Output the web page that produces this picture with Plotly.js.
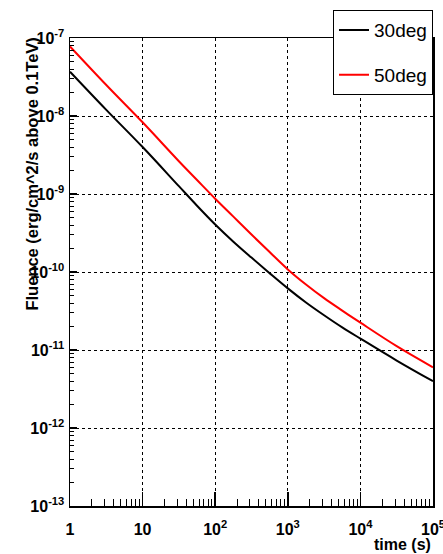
<!DOCTYPE html>
<html>
<head>
<meta charset="utf-8">
<script src="https://cdn.plot.ly/plotly-3.0.1.min.js"></script>
<style>html,body{margin:0;padding:0;background:#fff;}#chart{width:443px;height:554px;}</style>
</head>
<body>
<div id="chart"></div>
<script>
// time (s)
const time30 = [1, 3.16, 10, 31.6, 56.2, 100, 178, 316, 562, 1000, 1780, 3160, 5620, 10000, 31600, 100000];
const fluence30 = [3.7e-8, 1.2e-8, 4.0e-9, 1.26e-9, 7.08e-10, 4.07e-10, 2.45e-10, 1.53e-10, 9.66e-11, 6.17e-11, 4.07e-11, 2.79e-11, 1.95e-11, 1.40e-11, 7.33e-12, 3.98e-12];
const time50 = [1, 3.16, 10, 31.6, 56.2, 100, 178, 316, 562, 1000, 1780, 3160, 5620, 10000, 31600, 100000];
const fluence50 = [7.8e-8, 2.5e-8, 8.3e-9, 2.63e-9, 1.51e-9, 8.7e-10, 5.13e-10, 3.02e-10, 1.80e-10, 1.08e-10, 6.92e-11, 4.62e-11, 3.2e-11, 2.24e-11, 1.12e-11, 6.0e-12];
const seriesNames = ["30deg", "50deg"];
const xTickVals = [1, 10, 100, 1000, 10000, 100000];
const xTickText = ["1", "10", "10<sup>2</sup>", "10<sup>3</sup>", "10<sup>4</sup>", "10<sup>5</sup>"];
const yTickVals = [1e-13, 1e-12, 1e-11, 1e-10, 1e-9, 1e-8, 1e-7];
const yTickText = ["10<sup>-13</sup>", "10<sup>-12</sup>", "10<sup>-11</sup>", "10<sup>-10</sup>", "10<sup>-9</sup>", "10<sup>-8</sup>", "10<sup>-7</sup>"];
const xTitle = "time (s)";
const yTitle = "Fluence (erg/cm^2/s above 0.1TeV)";

const FONT = "Liberation Sans, Arial, Helvetica, sans-serif";

const traces = [
  {x: time30, y: fluence30, name: seriesNames[0], mode: "lines", legendgroup: "a",
   line: {color: "#000000", width: 2, shape: "spline", smoothing: 1}},
  {x: time50, y: fluence50, name: seriesNames[1], mode: "lines", legendgroup: "b",
   line: {color: "#ff0000", width: 2, shape: "spline", smoothing: 1}}
];

const axisCommon = {
  showline: true, linecolor: "#000", linewidth: 1.5, mirror: true,
  showgrid: true, gridcolor: "#000", gridwidth: 1, griddash: "dot",
  zeroline: false, ticks: "inside", tickcolor: "#000", tickwidth: 1.5,
  tickmode: "array", ticklabeloverflow: "allow",
  tickfont: {family: FONT, size: 16, color: "#000", weight: "bold"}
};

const layout = {
  width: 443, height: 554,
  margin: {l: 70, r: 10, t: 35, b: 48, pad: 0},
  paper_bgcolor: "#fff", plot_bgcolor: "#fff",
  showlegend: true,
  legend: {
    x: 1, xanchor: "right", y: 1.0594, yanchor: "top",
    bgcolor: "#fff", bordercolor: "#000", borderwidth: 1,
    font: {family: FONT, size: 19, color: "#000"},
    tracegroupgap: 17, traceorder: "grouped"
  },
  xaxis: Object.assign({}, axisCommon, {
    type: "log", range: [-0.00001, 5.00001],
    tickvals: xTickVals, ticktext: xTickText, ticklen: 14,
    ticklabelstandoff: 8,
    minor: {ticks: "inside", ticklen: 7, tickwidth: 1, tickcolor: "#000", dtick: "D1", showgrid: false}
  }),
  yaxis: Object.assign({}, axisCommon, {
    type: "log", range: [-13.00001, -6.99999],
    tickvals: yTickVals, ticktext: yTickText, ticklen: 7,
    ticklabelstandoff: 1,
    minor: {ticks: "inside", ticklen: 4, tickwidth: 1, tickcolor: "#000", dtick: "D1", showgrid: false}
  }),
  annotations: [
    {text: "<b>" + xTitle + "</b>", xref: "paper", yref: "paper", x: 1, xanchor: "right",
     y: -0.083, yanchor: "middle", showarrow: false,
     font: {family: FONT, size: 16, color: "#000"}},
    {text: "<b>" + yTitle + "</b>", xref: "paper", yref: "paper", x: -0.105, xanchor: "center",
     y: 1.006, yanchor: "top", textangle: -90, showarrow: false,
     font: {family: FONT, size: 16.5, color: "#000"}}
  ]
};

Plotly.newPlot("chart", traces, layout, {displayModeBar: false, staticPlot: true});
</script>
</body>
</html>
